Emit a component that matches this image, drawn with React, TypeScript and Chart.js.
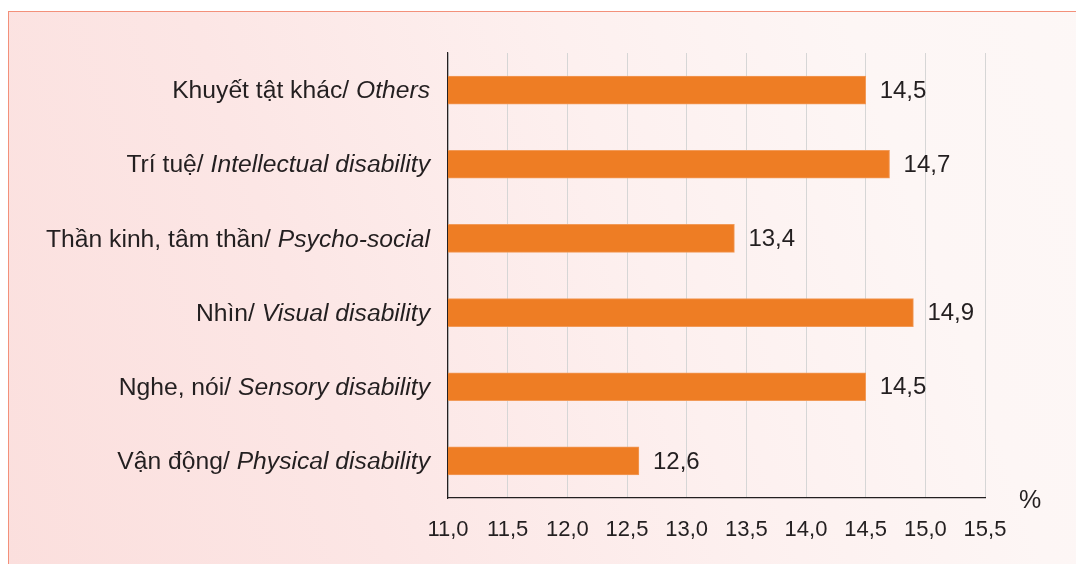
import React, { useEffect, useRef } from "react";
import { Chart, registerables } from "chart.js";

Chart.register(...registerables);

const labelsVi = ["Khuyết tật khác/", "Trí tuệ/", "Thần kinh, tâm thần/", "Nhìn/", "Nghe, nói/", "Vận động/"];
const labelsEn = ["Others", "Intellectual disability", "Psycho-social", "Visual disability", "Sensory disability", "Physical disability"];
const values = [14.5, 14.7, 13.4, 14.9, 14.5, 12.6];
const xMin = 11;
const xMax = 15.5;
const xStep = 0.5;
const unitLabel = "%";

const FONT = "'Liberation Sans', Arial, Helvetica, sans-serif";
const TEXT = "#231f20";
const fmt = (v: number) => v.toFixed(1).replace(".", ",");

const labelsPlugin = {
  id: "customLabels",
  afterDatasetsDraw(chart: any) {
    const ctx = chart.ctx;
    const meta = chart.getDatasetMeta(0);
    ctx.save();
    ctx.fillStyle = TEXT;
    ctx.font = `24px ${FONT}`;
    ctx.textAlign = "left";
    ctx.textBaseline = "middle";
    meta.data.forEach((bar: any, i: number) => {
      ctx.fillText(fmt(values[i]), bar.x + 14, bar.y + 1);
    });
    ctx.restore();
  },
  afterDraw(chart: any) {
    const ctx = chart.ctx;
    const ys = chart.scales.y;
    const area = chart.chartArea;
    ctx.save();
    ctx.fillStyle = TEXT;
    const size = 23.5;
    labelsVi.forEach((vi, i) => {
      const y = ys.getPixelForTick(i);
      ctx.save();
      ctx.translate(area.left - 18, y + size * 0.35);
      ctx.scale(1.05, 1);
      ctx.textAlign = "right";
      ctx.textBaseline = "alphabetic";
      ctx.font = `italic ${size}px ${FONT}`;
      const en = labelsEn[i];
      ctx.fillText(en, 0, 0);
      const w = ctx.measureText(en).width;
      ctx.font = `${size}px ${FONT}`;
      ctx.fillText(vi + " ", -w, 0);
      ctx.restore();
    });
    ctx.font = `25px ${FONT}`;
    ctx.textAlign = "center";
    ctx.textBaseline = "middle";
    ctx.fillText(unitLabel, area.right + 45, area.bottom + 3);
    ctx.restore();
  },
};

export default function App() {
  const ref = useRef<HTMLCanvasElement | null>(null);
  useEffect(() => {
    if (!ref.current) return;
    const chart = new Chart(ref.current, {
      type: "bar",
      data: {
        labels: labelsVi.map((v, i) => `${v} ${labelsEn[i]}`),
        datasets: [
          {
            data: values,
            backgroundColor: "#ee7d24",
            borderColor: "#f29a58",
            borderWidth: 1,
            barThickness: 28,
          },
        ],
      },
      options: {
        indexAxis: "y",
        responsive: false,
        animation: false,
        layout: { padding: { left: 448, top: 53, right: 91, bottom: 0 } },
        plugins: { legend: { display: false }, tooltip: { enabled: false } },
        scales: {
          x: {
            type: "linear",
            min: xMin,
            max: xMax,
            ticks: {
              stepSize: xStep,
              callback: (v: any) => fmt(Number(v)),
              font: { size: 22, family: FONT },
              color: TEXT,
              padding: 19,
              maxRotation: 0,
              autoSkip: false,
            },
            grid: { color: "#d6d6d6", drawTicks: false, lineWidth: 1 },
            border: { color: TEXT, width: 1.2 },
            afterFit: (s: any) => {
              s.height = 66;
            },
          },
          y: {
            grid: { display: false, drawTicks: false },
            ticks: { display: false },
            border: { color: TEXT, width: 1.2 },
            afterFit: (s: any) => {
              s.width = 0;
            },
          },
        },
      },
      plugins: [labelsPlugin],
    } as any);
    return () => chart.destroy();
  }, []);

  return (
    <div style={{ position: "fixed", left: 0, top: 0, width: 1076, height: 564, background: "#fff", overflow: "hidden" }}>
      <div
        style={{
          position: "absolute",
          left: 8,
          top: 11,
          width: 1200,
          height: 700,
          borderTop: "1.5px solid #f3907a",
          borderLeft: "1.5px solid #f3907a",
          background:
            "linear-gradient(70deg, #fbdedc 0%, #fce6e5 30%, #fdf0ef 55%, #fdf6f5 75%, #fdf8f7 100%)",
        }}
      />
      <canvas ref={ref} width={1076} height={564} style={{ position: "absolute", left: 0, top: 0 }} />
    </div>
  );
}
